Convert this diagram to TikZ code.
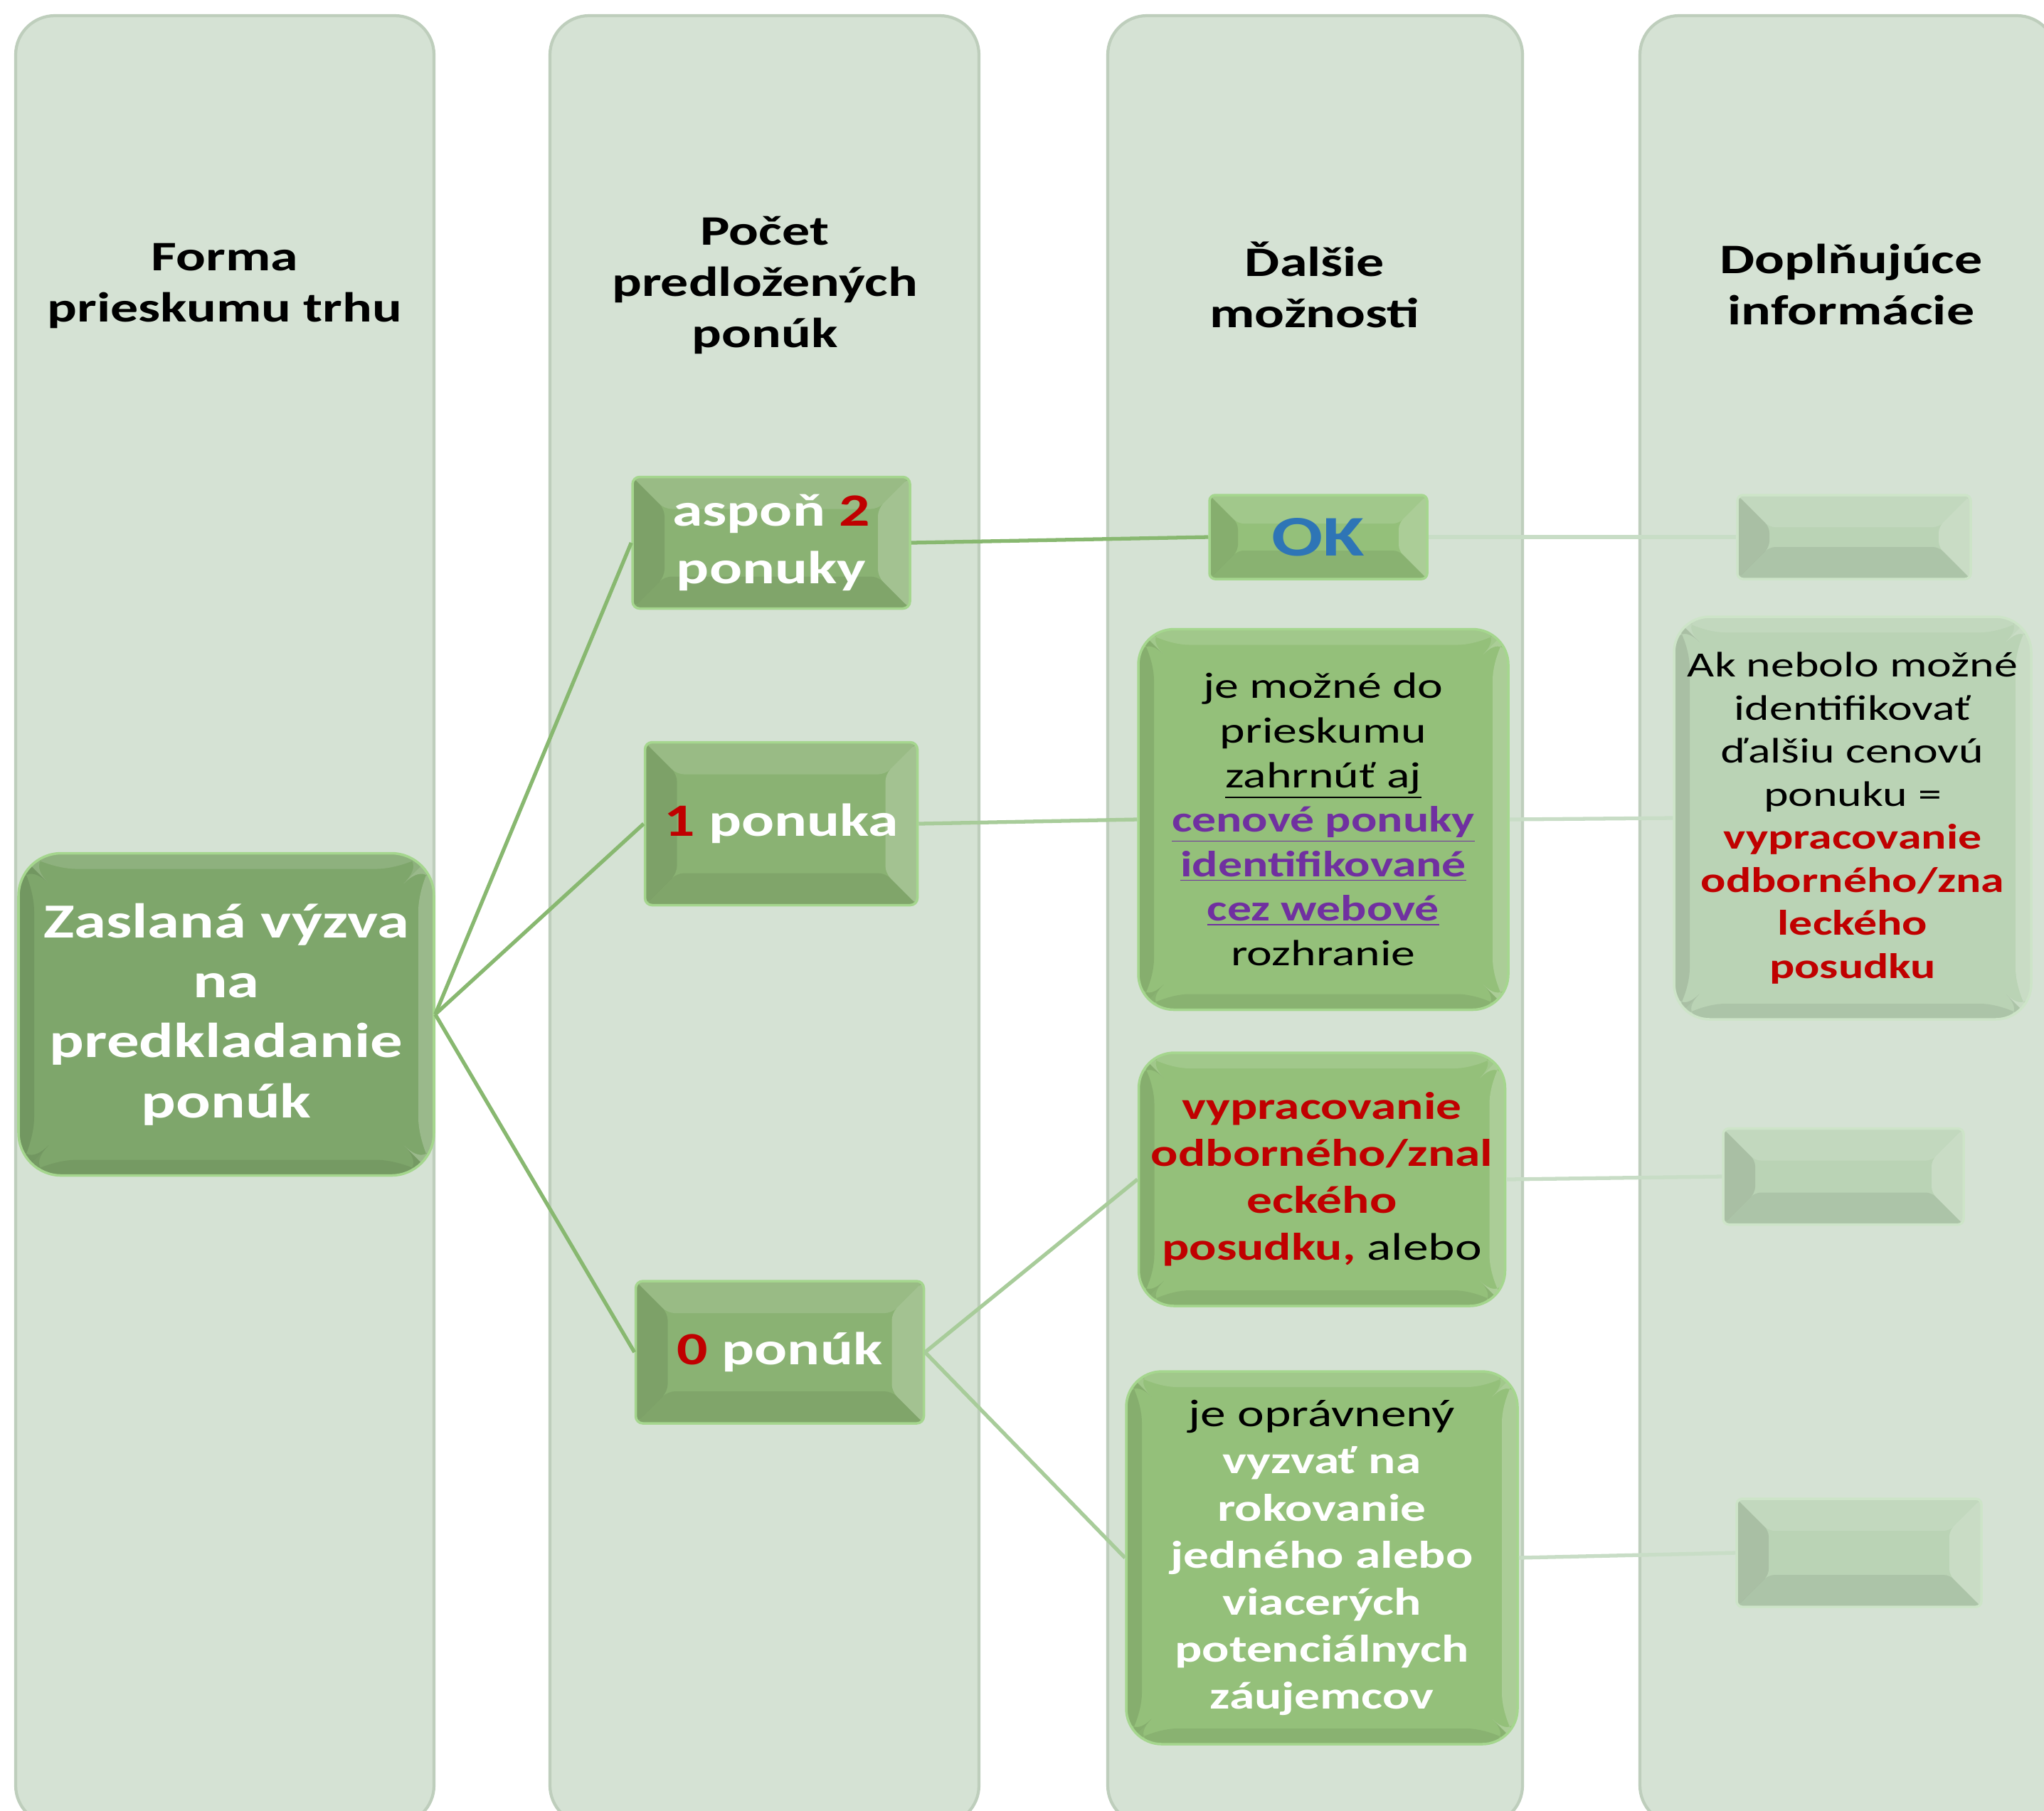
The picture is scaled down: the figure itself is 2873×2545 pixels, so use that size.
\documentclass[tikz,border=0pt]{standalone}
\usepackage{fontspec}
\setmainfont{Carlito}[FakeStretch=1.32]
\usepackage{tikz}
\usetikzlibrary{positioning,calc}

\definecolor{laneFill}{RGB}{213,226,212}
\definecolor{laneEdge}{RGB}{190,206,188}
\definecolor{boxDark}{RGB}{126,166,107}
\definecolor{boxMid}{RGB}{138,178,115}
\definecolor{boxLight}{RGB}{148,192,122}
\definecolor{boxPale}{RGB}{186,211,181}
\definecolor{boxGlow}{RGB}{165,214,142}
\definecolor{paleGlow}{RGB}{205,228,200}
\definecolor{lineGreen}{RGB}{136,184,112}
\definecolor{lineSoft}{RGB}{168,204,154}
\definecolor{linePale}{RGB}{200,221,198}
\definecolor{offRed}{RGB}{192,0,0}
\definecolor{offPurple}{RGB}{112,48,160}
\definecolor{offBlue}{RGB}{46,117,182}

\newcommand\pu[1]{{\bfseries\color{offPurple}\underline{#1}}}
\newcommand\rd[1]{{\bfseries\color{offRed}#1}}

\begin{document}
\begin{tikzpicture}[
        %pixel grid of the reference, y going down
        x=0.1mm, y=-0.1mm,
        lane/.style={fill=laneFill, draw=laneEdge, line width=1.2pt, rounded corners=0.55cm},
        header/.style={align=center, font=\fontsize{16.8}{20.5}\selectfont\bfseries},
        bevel/.default=0.45cm,
        bevel/.style={path picture={
            \coordinate (bl) at (path picture bounding box.south west);
            \coordinate (tr) at (path picture bounding box.north east);
            \coordinate (tl) at (bl|-tr);
            \coordinate (br) at (tr|-bl);
            \fill[white,opacity=.13] (tl) -- (tr) -- ($(tr)+(-#1,-#1)$) -- ($(tl)+(#1,-#1)$) -- cycle;
            \fill[white,opacity=.22] (tr) -- (br) -- ($(br)+(-#1,#1)$) -- ($(tr)+(-#1,-#1)$) -- cycle;
            \fill[black,opacity=.07] (br) -- (bl) -- ($(bl)+(#1,#1)$) -- ($(br)+(-#1,#1)$) -- cycle;
            \fill[black,opacity=.09] (bl) -- (tl) -- ($(tl)+(#1,-#1)$) -- ($(bl)+(#1,#1)$) -- cycle;
        }},
        box/.style={draw=boxGlow, line width=1pt, align=center, inner sep=0pt},
        mainbox/.style={box, fill=boxDark, text=white, rounded corners=0.6cm, bevel=0.22cm,
            font=\fontsize{19.6}{24}\selectfont\bfseries},
        countbox/.style={box, fill=boxMid, text=white, rounded corners=0.1cm, bevel,
            font=\fontsize{18.5}{22.9}\selectfont\bfseries},
        optbox/.style={box, fill=boxLight, rounded corners=0.5cm, bevel=0.22cm},
        infobox/.style={box, draw=paleGlow, fill=boxPale, rounded corners=0.5cm, bevel=0.22cm},
        emptybox/.style={box, draw=paleGlow, fill=boxPale, rounded corners=0.08cm, bevel},
        link/.style={line width=1.5pt, lineGreen},
        soft link/.style={line width=1.5pt, lineSoft},
        pale link/.style={line width=1.5pt, linePale}
    ]
    \useasboundingbox (0,0) rectangle (2873,2545);
    \fill[white] (0,0) rectangle (2873,2545);
    \clip (0,0) rectangle (2873,2545);

    % Lanes
    \draw[lane] (22,22) rectangle (610,2565);
    \draw[lane] (773,22) rectangle (1376,2565);
    \draw[lane] (1557,22) rectangle (2140,2565);
    \draw[lane] (2305,22) rectangle (2890,2565);

    % Headers
    \node[header] (hdForma) at (316,402) {Forma\\prieskumu trhu};
    \node[header] (hdPocet) at (1075,401) {Počet\\predložených\\ponúk};
    \node[header] (hdDalsie) at (1848,400) {Ďalšie\\možnosti};
    \node[header] (hdDopl) at (2602,400) {Doplňujúce\\informácie};

    % First and second lane
    \node[mainbox, minimum width=5.84cm, minimum height=4.53cm] (vyzva) at (318,1426)
        {Zaslaná výzva\\na\\predkladanie\\ponúk};
    \node[countbox, minimum width=3.9cm, minimum height=1.85cm] (aspon) at (1084,763)
        {aspoň \textcolor{offRed}{2}\\ponuky};
    \node[countbox, minimum width=3.83cm, minimum height=2.29cm] (jedna) at (1098,1158)
        {\textcolor{offRed}{1} ponuka};
    \node[countbox, minimum width=4.05cm, minimum height=2.0cm] (nula) at (1096,1901)
        {\textcolor{offRed}{0} ponúk};

    % Third lane
    \node[box, fill=boxLight, rounded corners=0.08cm, bevel=0.4cm, minimum width=3.06cm,
        minimum height=1.18cm, text=offBlue, font=\fontsize{23}{26}\selectfont\bfseries] (ok) at (1853,755) {OK};
    \node[optbox, minimum width=5.2cm, minimum height=5.35cm,
        font=\fontsize{14.6}{17.8}\selectfont] (web) at (1860,1152)
        {je možné do\\prieskumu\\\underline{zahrnúť aj}\\\pu{cenové ponuky}\\\pu{identifikované}\\\pu{cez webové}\\rozhranie};
    \node[optbox, minimum width=5.15cm, minimum height=3.56cm,
        font=\fontsize{15.4}{18.8}\selectfont] (posudok) at (1858,1658)
        {\rd{vypracovanie}\\\rd{odborného/znal}\\\rd{eckého}\\\rd{posudku,} alebo};
    \node[optbox, minimum width=5.5cm, minimum height=5.24cm,
        font=\fontsize{15.4}{18.8}\selectfont] (rokovanie) at (1858,2190)
        {je oprávnený\\\textcolor{white}{\bfseries vyzvať na}\\\textcolor{white}{\bfseries rokovanie}\\
         \textcolor{white}{\bfseries jedného alebo}\\\textcolor{white}{\bfseries viacerých}\\
         \textcolor{white}{\bfseries potenciálnych}\\\textcolor{white}{\bfseries záujemcov}};

    % Fourth lane
    \node[emptybox, minimum width=3.28cm, minimum height=1.18cm] (infoA) at (2606,755) {};
    \node[infobox, minimum width=5.02cm, minimum height=5.66cm,
        font=\fontsize{14.2}{17.2}\selectfont] (infoB) at (2604,1150)
        {Ak nebolo možné\\identifikovať\\ďalšiu cenovú\\ponuku =\\\rd{vypracovanie}\\\rd{odborného/zna}\\\rd{leckého}\\\rd{posudku}};
    \node[emptybox, minimum width=3.38cm, minimum height=1.35cm] (infoC) at (2591,1654) {};
    \node[emptybox, minimum width=3.44cm, minimum height=1.52cm] (infoD) at (2613,2183) {};

    % Connectors
    \draw[link] (vyzva.east) -- (aspon.west);
    \draw[link] (vyzva.east) -- (jedna.west);
    \draw[link] (vyzva.east) -- (nula.west);
    \draw[link] (aspon.east) -- (ok.west);
    \draw[soft link] (jedna.east) -- (web.west);
    \draw[soft link] (nula.east) -- (posudok.west);
    \draw[soft link] (nula.east) -- (rokovanie.west);
    \draw[pale link] (ok.east) -- (infoA.west);
    \draw[pale link] (web.east) -- (infoB.west);
    \draw[pale link] (posudok.east) -- (infoC.west);
    \draw[pale link] (rokovanie.east) -- (infoD.west);
\end{tikzpicture}
\end{document}
